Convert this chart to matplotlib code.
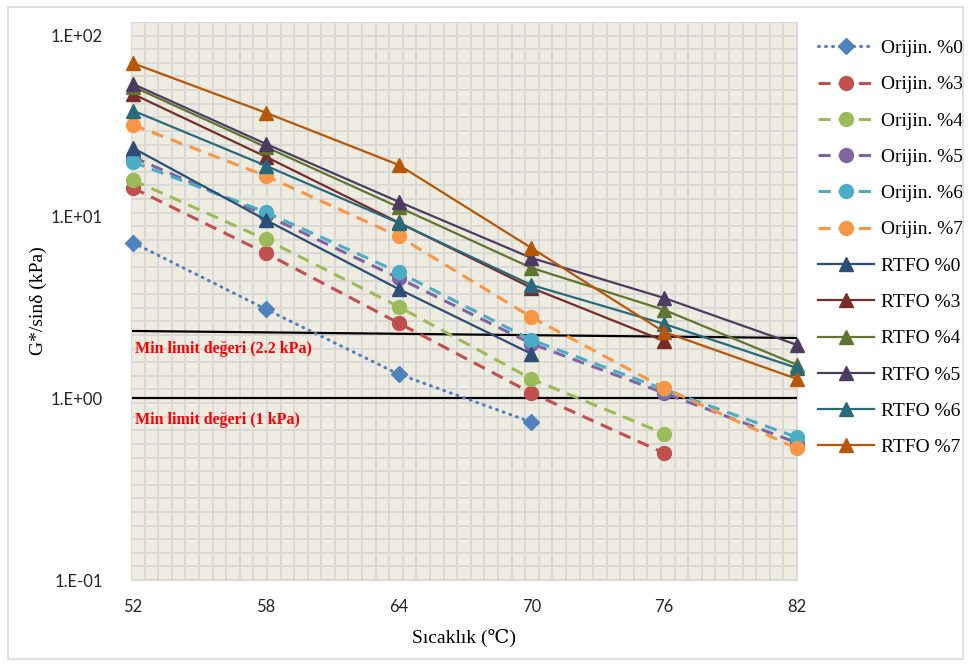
import numpy as np
import matplotlib
matplotlib.use("Agg")
import matplotlib.pyplot as plt
from matplotlib.patches import Rectangle

# Veriler
sicaklik = [52, 58, 64, 70, 76, 82]

orijin_0 = [7.2, 3.1, 1.36, 0.74]
orijin_3 = [14.4, 6.3, 2.6, 1.07, 0.50]
orijin_4 = [15.9, 7.5, 3.2, 1.28, 0.64]
orijin_5 = [21.3, 10.2, 4.6, 2.0, 1.07, 0.57]
orijin_6 = [20.0, 10.6, 4.95, 2.1, 1.12, 0.61]
orijin_7 = [32.0, 16.8, 7.8, 2.8, 1.14, 0.53]

rtfo_0 = [23.9, 9.6, 4.0, 1.76]
rtfo_3 = [47.4, 21.4, 9.3, 4.06, 2.07]
rtfo_4 = [52.0, 24.2, 11.3, 5.23, 3.07, 1.53]
rtfo_5 = [53.8, 25.2, 12.1, 5.93, 3.57, 1.97]
rtfo_6 = [38.4, 19.1, 9.25, 4.21, 2.57, 1.47]
rtfo_7 = [70.0, 37.4, 19.3, 6.73, 2.32, 1.28]

limit_x = [52, 82]
limit_22 = [2.35, 2.15]
limit_1 = [1.0, 1.0]

yticks = [0.1, 1, 10, 100]
ytick_labels = ["1.E-01", "1.E+00", "1.E+01", "1.E+02"]

serif = ["Liberation Serif", "DejaVu Serif", "DejaVu Sans"]

fig = plt.figure(figsize=(9.71, 6.66), dpi=100)
fig.patches.append(Rectangle((0.008, 0.010), 0.984, 0.980, transform=fig.transFigure,
                             fill=False, edgecolor="#D9D9D9", linewidth=1.2))
ax = fig.add_axes([0.1349, 0.1291, 0.6859, 0.8378])
ax.set_facecolor("#EEECE1")

# kareli arka plan (Excel desen dolgusu gibi)
for f in np.linspace(0, 1, 50):
    ax.plot([f, f], [0, 1], transform=ax.transAxes, color="#DAD8D4", lw=1.4, zorder=0)
for f in np.linspace(0, 1, 42):
    ax.plot([0, 1], [f, f], transform=ax.transAxes, color="#DAD8D4", lw=1.4, zorder=0)

dash = (0, (4, 2.6))
ax.plot(sicaklik[:4], orijin_0, color="#4F81BD", ls=(0, (0.3, 2.0)), lw=2.2, marker="D",
        ms=8, dash_capstyle="round", label="Orijin. %0", clip_on=False, zorder=3)
ax.plot(sicaklik[:5], orijin_3, color="#C0504D", ls=dash, lw=2.2, marker="o", ms=10,
        label="Orijin. %3", clip_on=False, zorder=3)
ax.plot(sicaklik[:5], orijin_4, color="#9BBB59", ls=dash, lw=2.2, marker="o", ms=10,
        label="Orijin. %4", clip_on=False, zorder=3)
ax.plot(sicaklik, orijin_5, color="#8064A2", ls=dash, lw=2.2, marker="o", ms=10,
        label="Orijin. %5", clip_on=False, zorder=3)
ax.plot(sicaklik, orijin_6, color="#4BACC6", ls=dash, lw=2.2, marker="o", ms=10,
        label="Orijin. %6", clip_on=False, zorder=3)
ax.plot(sicaklik, orijin_7, color="#F79646", ls=dash, lw=2.2, marker="o", ms=10,
        label="Orijin. %7", clip_on=False, zorder=3)

ax.plot(sicaklik[:4], rtfo_0, color="#2C4D75", lw=1.6, marker="^", ms=10,
        label="RTFO %0", clip_on=False, zorder=4)
ax.plot(sicaklik[:5], rtfo_3, color="#772C2A", lw=1.6, marker="^", ms=10,
        label="RTFO %3", clip_on=False, zorder=4)
ax.plot(sicaklik, rtfo_4, color="#5F7530", lw=1.6, marker="^", ms=10,
        label="RTFO %4", clip_on=False, zorder=4)
ax.plot(sicaklik, rtfo_5, color="#4D3B62", lw=1.6, marker="^", ms=10,
        label="RTFO %5", clip_on=False, zorder=4)
ax.plot(sicaklik, rtfo_6, color="#276A7C", lw=1.6, marker="^", ms=10,
        label="RTFO %6", clip_on=False, zorder=4)
ax.plot(sicaklik, rtfo_7, color="#B65708", lw=1.6, marker="^", ms=10,
        label="RTFO %7", clip_on=False, zorder=4)

# minimum limit cizgileri
ax.plot(limit_x, limit_22, color="black", lw=1.6, zorder=2)
ax.plot(limit_x, limit_1, color="black", lw=1.6, zorder=2)
ax.text(52.1, 1.88, "Min limit değeri (2.2 kPa)", color="#FF0000", fontsize=11.5,
        fontweight="bold", family=serif, va="center", ha="left", zorder=5)
ax.text(52.1, 0.76, "Min limit değeri (1 kPa)", color="#FF0000", fontsize=11.5,
        fontweight="bold", family=serif, va="center", ha="left", zorder=5)

ax.set_yscale("log")
ax.set_xlim(51.91, 82)
ax.set_ylim(0.1, 118)
ax.set_xticks(sicaklik)
ax.set_yticks(yticks)
ax.set_yticklabels(ytick_labels)
ax.minorticks_off()
ax.tick_params(axis="both", length=0, labelsize=12, labelcolor="#262626")
ax.tick_params(axis="x", pad=14)
ax.tick_params(axis="y", pad=20)
for lbl in ax.get_xticklabels() + ax.get_yticklabels():
    lbl.set_family(["Lato", "DejaVu Sans"])
for s in ax.spines.values():
    s.set_color("#D9D9D9")

ax.set_xlabel("Sıcaklık (℃)", fontsize=14, family=serif, labelpad=10)
ax.set_ylabel("G*/sinδ (kPa)", fontsize=14, family=serif, labelpad=3)

ax.legend(loc="upper left", bbox_to_anchor=(800 / 971, 1 - 22 / 666),
          bbox_transform=fig.transFigure, frameon=False, prop={"family": serif, "size": 14},
          handlelength=2.9, handletextpad=0.38, labelspacing=0.96)

fig.savefig("out.png", dpi=100)
